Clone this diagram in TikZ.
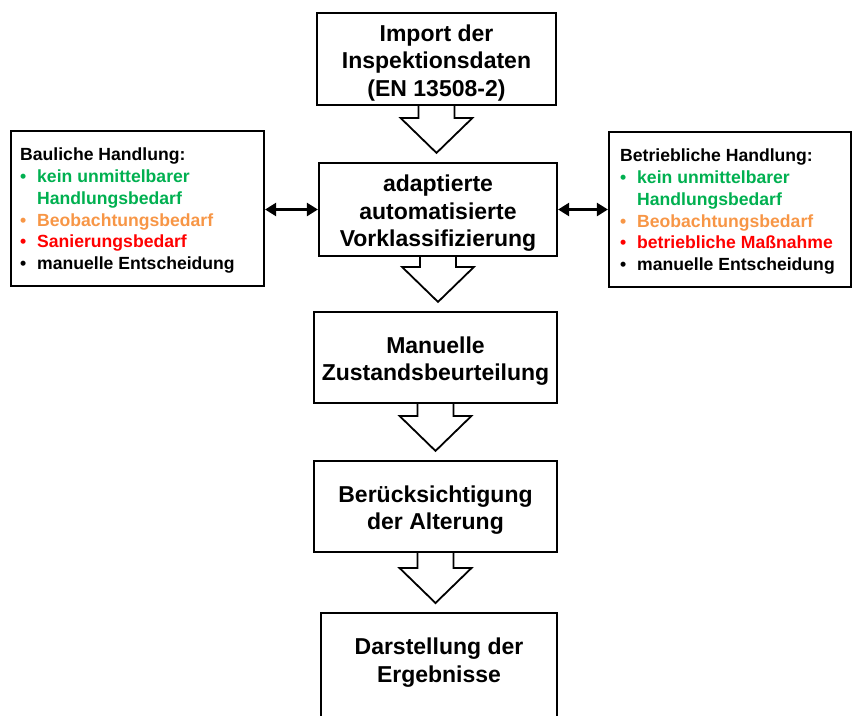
\documentclass[tikz,border=0pt]{standalone}
\usepackage{fontspec}
\setmainfont{Liberation Sans}
\usetikzlibrary{arrows.meta,calc}
\definecolor{cgreen}{HTML}{00B050}
\definecolor{corange}{HTML}{F79646}
\definecolor{cred}{HTML}{FF0000}
\newcommand\bul[2]{\textcolor{#1}{\makebox[17pt][l]{•}#2}}
\newcommand\cont[2]{\textcolor{#1}{\hspace*{17pt}#2}}
\newcommand\topstrut{\rule{0pt}{24pt}}
\newcommand\flowarrow[2]{%
  \draw[blockarrow] ($(#1.south)+(-18,0)$) -- ($(#1.south |- #2.north)+(-18,-44)$)
    -- ($(#1.south |- #2.north)+(-36,-44)$) -- ($(#1.south |- #2.north)+(0,-9)$)
    -- ($(#1.south |- #2.north)+(36,-44)$) -- ($(#1.south |- #2.north)+(18,-44)$)
    -- ($(#1.south)+(18,0)$);}
\begin{document}
\begin{tikzpicture}[x=1pt,y=-1pt,
  box/.style={draw,line width=2.2pt,inner sep=0pt,align=center,
    font=\bfseries\fontsize{23}{27.5}\selectfont},
  plaintext/.style={inner sep=0pt,align=center,font=\bfseries\fontsize{23}{27.5}\selectfont},
  blockarrow/.style={draw,line width=1.8pt,fill=white,line join=miter},
  dbl/.style={line width=2.4pt,{Triangle[length=11pt,width=13pt]}-{Triangle[length=11pt,width=13pt]}},
  sidebox/.style={draw,line width=2.2pt,inner sep=0pt},
  sidetext/.style={align=left,anchor=north west,inner sep=0pt,
    font=\bfseries\fontsize{17.6}{21.7}\selectfont}]
\useasboundingbox (0,0) rectangle (853,715);

\node[box,minimum width=239pt,minimum height=92pt] (b1) at (436.5,59)
  {\topstrut Import der\\Inspektionsdaten\\(EN 13508-2)};
\node[box,minimum width=238pt,minimum height=93pt] (b2) at (438,209.5)
  {\topstrut adaptierte\\automatisierte\\Vorklassifizierung};
\node[box,minimum width=243pt,minimum height=91pt] (b3) at (435.5,357.5)
  {\topstrut Manuelle\\Zustandsbeurteilung};
\node[box,minimum width=243pt,minimum height=91pt] (b4) at (435.5,506.5)
  {\topstrut Berücksichtigung\\der Alterung};
\node[draw,line width=2.2pt,inner sep=0pt,minimum width=236pt,minimum height=130pt,anchor=north] (b5) at (439,612) {};
\node[plaintext] (t5) at (439,662.5) {Darstellung der\\Ergebnisse};

\flowarrow{b1}{b2}
\flowarrow{b2}{b3}
\flowarrow{b3}{b4}
\flowarrow{b4}{b5}

\node[sidebox,minimum width=253pt,minimum height=155pt] (lb) at (137.5,208.5) {};
\node[sidetext] (lt) at (20,148)
  {Bauliche Handlung:\\
   \bul{cgreen}{kein unmittelbarer}\\
   \cont{cgreen}{Handlungsbedarf}\\
   \bul{corange}{Beobachtungsbedarf}\\
   \bul{cred}{Sanierungsbedarf}\\
   \bul{black}{manuelle Entscheidung}};

\node[sidebox,minimum width=242pt,minimum height=155pt] (rb) at (730,209.5) {};
\node[sidetext] (rt) at (620,149)
  {Betriebliche Handlung:\\
   \bul{cgreen}{kein unmittelbarer}\\
   \cont{cgreen}{Handlungsbedarf}\\
   \bul{corange}{Beobachtungsbedarf}\\
   \bul{cred}{betriebliche Maßnahme}\\
   \bul{black}{manuelle Entscheidung}};

\draw[dbl] (lb.east |- b2.west) -- (b2.west);
\draw[dbl] (b2.east) -- (rb.west |- b2.east);
\end{tikzpicture}
\end{document}
